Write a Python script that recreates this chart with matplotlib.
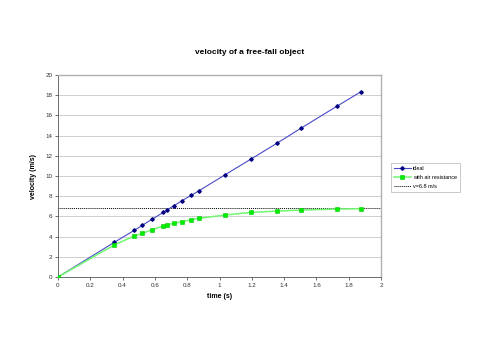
import numpy as np
import matplotlib
matplotlib.use('Agg')
import matplotlib.pyplot as plt

plt.rcParams['font.family'] = ['Liberation Sans', 'DejaVu Sans']

# data
t = [0, 0.348, 0.472, 0.522, 0.584, 0.652, 0.677, 0.718, 0.768, 0.826, 0.874,
     1.035, 1.197, 1.358, 1.503, 1.729, 1.876]
v_ideal = [0, 3.43, 4.62, 5.12, 5.74, 6.40, 6.67, 7.06, 7.56, 8.10, 8.55,
           10.13, 11.70, 13.27, 14.72, 16.93, 18.35]
v_air = [0, 3.17, 4.06, 4.32, 4.69, 5.05, 5.18, 5.31, 5.48, 5.68, 5.81,
         6.14, 6.40, 6.53, 6.63, 6.73, 6.76]
v_term = 6.8
x_range = [0, 2]

fig = plt.figure(figsize=(5, 3.54), dpi=100)
ax = fig.add_axes([0.116, 0.2175, 0.646, 0.5705])

ax.plot(t, v_ideal, color='#4a4ac8', lw=0.8, marker='D', ms=1.8,
        mfc='#000080', mec='#000080', label='ideal', zorder=3)
ax.plot(t, v_air, color='#70f870', lw=1.1, marker='s', ms=2.6,
        mfc='#00ee00', mec='#00cc00', mew=0.4, label='with air resistance', zorder=3)
ax.plot(x_range, [v_term, v_term], color='black', lw=0.7, ls=(0, (1, 1)),
        label='v=6.8 m/s', zorder=2)

ax.set_xlim(0, 2)
ax.set_ylim(0, 20)
ax.set_xticks(np.arange(0, 2.01, 0.2))
ax.set_xticklabels(['0', '0.2', '0.4', '0.6', '0.8', '1', '1.2', '1.4', '1.6', '1.8', '2'])
ax.set_yticks(np.arange(0, 21, 2))
ax.yaxis.grid(True, color='#c8c8c8', lw=0.6)
ax.set_axisbelow(True)
ax.tick_params(labelsize=4.5, length=2, width=0.5, pad=2, colors='#333333')
for s in ['top', 'right']:
    ax.spines[s].set_color('#b0b0b0')
    ax.spines[s].set_linewidth(1.0)
for s in ['left', 'bottom']:
    ax.spines[s].set_color('#555555')
    ax.spines[s].set_linewidth(0.6)

ax.set_xlabel('time (s)', fontsize=5, fontweight='bold', labelpad=4)
ax.set_ylabel('velocity (m/s)', fontsize=5, fontweight='bold', labelpad=6)
fig.text(0.5, 0.853, 'velocity of a free-fall object', ha='center', va='center',
         fontsize=6, fontweight='bold')

leg = ax.legend(loc='upper left', bbox_to_anchor=(1.03, 0.565), fontsize=4,
                frameon=True, fancybox=False, edgecolor='#b0b0b0',
                handlelength=3.0, handletextpad=0.4, borderpad=0.6,
                labelspacing=0.7, borderaxespad=0)
leg.get_frame().set_linewidth(0.6)

fig.savefig('out.png', dpi=100)
